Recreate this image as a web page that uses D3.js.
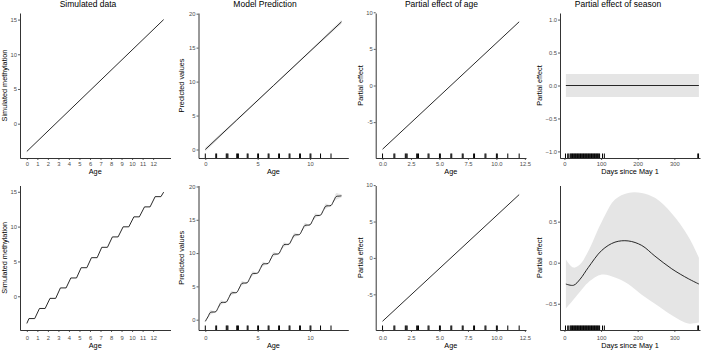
<!DOCTYPE html>
<html>
<head>
<meta charset="utf-8">
<script src="https://cdn.jsdelivr.net/npm/d3@7"></script>
<style>
  body { margin: 0; background: #fff; }
  text { font-family: "Liberation Sans", Arial, sans-serif; }
</style>
</head>
<body>
<div id="chart-area"></div>
<script>
// ---- data ----
var titles = ["Simulated data", "Model Prediction", "Partial effect of age", "Partial effect of season"];
var yTitles = ["Simulated methylation", "Predicted values", "Partial effect", "Partial effect"];
var xTitles = ["Age", "Age", "Age", "Days since May 1"];

// simulated data, no season effect
var simLineAge = [0, 13];
var simLineMeth = [-4, 15];

// simulated data, with season effect (corners of the staircase)
var simStepAge = [0, 0.2, 0.75, 1.2, 1.74, 2.2, 2.74, 3.19, 3.73, 4.18, 4.72, 5.16, 5.7, 6.14, 6.68,
  7.12, 7.66, 8.13, 8.67, 9.15, 9.69, 10.17, 10.69, 11.18, 11.71, 12.19, 12.74, 13.0];
var simStepMeth = [-3.9, -3.2, -3.2, -1.75, -1.75, -0.3, -0.3, 1.2, 1.2, 2.63, 2.63, 4.1, 4.1, 5.54, 5.54,
  7.03, 7.03, 8.52, 8.52, 9.97, 9.97, 11.4, 11.4, 12.83, 12.83, 14.3, 14.3, 14.95];

// model prediction, no season effect
var predLineAge = [0, 3, 6.5, 10, 13];
var predLineVal = [0, 4.34, 9.4, 14.46, 18.8];
var predLineSE = [0.3, 0.15, 0.1, 0.15, 0.3];

// model prediction, with season effect
var predWaveAge = [0, 0.25, 0.5, 0.75, 1, 1.25, 1.5, 1.75, 2, 2.25, 2.5, 2.75, 3, 3.25, 3.5, 3.75,
  4, 4.25, 4.5, 4.75, 5, 5.25, 5.5, 5.75, 6, 6.25, 6.5, 6.75, 7, 7.25, 7.5, 7.75,
  8, 8.25, 8.5, 8.75, 9, 9.25, 9.5, 9.75, 10, 10.25, 10.5, 10.75, 11, 11.25, 11.5, 11.75,
  12, 12.25, 12.5, 12.75, 13];
var predWaveVal = [-0.25, 0.42, 1.10, 1.15, 1.20, 1.87, 2.55, 2.60, 2.65, 3.32, 4.00, 4.05,
  4.10, 4.77, 5.45, 5.50, 5.55, 6.22, 6.90, 6.95, 7.00, 7.67, 8.35, 8.40,
  8.45, 9.12, 9.80, 9.85, 9.90, 10.57, 11.25, 11.30, 11.35, 12.02, 12.70, 12.75,
  12.80, 13.47, 14.15, 14.20, 14.25, 14.92, 15.60, 15.65, 15.70, 16.37, 17.05, 17.10,
  17.15, 17.82, 18.50, 18.55, 18.60];
var predWaveSE = [0.2, 0.08, 0.35, 0.18, 0.12, 0.08, 0.35, 0.18, 0.12, 0.08, 0.35, 0.18,
  0.12, 0.08, 0.35, 0.18, 0.12, 0.08, 0.35, 0.18, 0.12, 0.08, 0.35, 0.18,
  0.12, 0.08, 0.35, 0.18, 0.12, 0.08, 0.35, 0.18, 0.12, 0.08, 0.35, 0.18,
  0.12, 0.08, 0.35, 0.18, 0.12, 0.08, 0.38, 0.18, 0.12, 0.08, 0.4, 0.2,
  0.15, 0.1, 0.5, 0.35, 0.25];

// partial effect of age
var ageEffAge = [0, 12];
var ageEffVal = [-8.7, 8.7];

// partial effect of season, no season effect
var seasonFlatDay = [4, 367];
var seasonFlatVal = [0, 0];
var seasonFlatSE = [0.175, 0.175];

// partial effect of season, with season effect
var seasonDay = [4, 25, 43, 65, 102, 138, 174, 211, 247, 293, 338, 367];
var seasonVal = [-0.26, -0.275, -0.2, -0.06, 0.15, 0.25, 0.265, 0.21, 0.08, -0.075, -0.195, -0.26];
var seasonUpper = [0.04, -0.06, -0.02, 0.14, 0.5, 0.77, 0.85, 0.85, 0.79, 0.6, 0.32, 0.06];
var seasonLower = [-0.56, -0.45, -0.35, -0.24, -0.145, -0.18, -0.26, -0.39, -0.5, -0.64, -0.74, -0.73];

// rugs (observed ages and sampling days)
var rugAge = [0, 1, 1.08, 2, 2.08, 2.16, 3, 3.08, 3.16, 4, 4.08, 5, 5.08, 6, 6.08, 7, 7.08,
  8, 8.08, 9, 9.08, 10, 10.08, 11, 12];
var rugDay = [3, 9, 12, 16, 18, 20, 22, 24, 26, 28, 30, 32, 34, 36, 38, 40, 42, 44, 46, 48,
  50, 52, 54, 56, 58, 60, 62, 64, 66, 68, 70, 72, 74, 76, 78, 80, 82, 84, 86, 88, 90, 92, 94, 96,
  104, 109, 364, 366];

// tick labels
var ageTicks1 = [0, 1, 2, 3, 4, 5, 6, 7, 8, 9, 10, 11, 12];
var ageTicks2 = [0, 5, 10];
var ageTicks3 = [0, 2.5, 5, 7.5, 10, 12.5];
var dayTicks = [0, 100, 200, 300];

// ---- layout ----
var svg = d3.select("#chart-area")
  .append("svg")
  .attr("width", 706)
  .attr("height", 350);

var cols = [
  { x0: 20, x1: 170.5, cx: 88, lab: 4.3 },
  { x0: 198.5, x1: 348.3, cx: 265, lab: 181.7 },
  { x0: 375.7, x1: 526, cx: 441.5, lab: 360.5 },
  { x0: 560, x1: 700, cx: 618, lab: 539.5 }
];
var rows = [
  { y0: 13, y1: 158, pad: 2.2, title: 174.2 },
  { y0: 185.5, y1: 330, pad: 3.5, title: 347.6 }
];

function zip(a, b, c) {
  return a.map((d, i) => c ? [d, b[i], c[i]] : [d, b[i]]);
}

function panel(c, r, o) {
  var col = cols[c], row = rows[r];
  var x = d3.scaleLinear().domain(o.xDomain).range([col.x0, col.x1]);
  var y = d3.scaleLinear().domain(o.yDomain).range([row.y1, row.y0]);
  var g = svg.append("g");

  // confidence band
  if (o.band) {
    g.append("path")
      .datum(o.band)
      .attr("d", d3.area()
        .x(d => x(d[0]))
        .y0(d => y(d[1]))
        .y1(d => y(d[2]))
        .curve(o.curve || d3.curveLinear))
      .attr("fill", "#e5e5e5");
  }

  // line
  g.append("path")
    .datum(o.line)
    .attr("d", d3.line()
      .x(d => x(d[0]))
      .y(d => y(d[1]))
      .curve(o.curve || d3.curveLinear))
    .attr("fill", "none")
    .attr("stroke", "#111")
    .attr("stroke-width", 0.9);

  // rug
  if (o.rug) {
    g.selectAll(".rug")
      .data(o.rug)
      .enter()
      .append("line")
      .attr("x1", d => x(d))
      .attr("x2", d => x(d))
      .attr("y1", row.y1)
      .attr("y2", row.y1 - 4.5)
      .attr("stroke", "#000")
      .attr("stroke-width", 1);
  }

  // axes
  var xAxis = g.append("g")
    .attr("transform", "translate(0," + row.y1 + ")")
    .call(d3.axisBottom(x)
      .tickValues(o.xTicks)
      .tickFormat(o.xFmt || (d => d))
      .tickSize(2)
      .tickSizeOuter(0)
      .tickPadding(row.pad));
  var yAxis = g.append("g")
    .attr("transform", "translate(" + col.x0 + ",0)")
    .call(d3.axisLeft(y)
      .tickValues(o.yTicks)
      .tickFormat(o.yFmt || (d => d))
      .tickSize(2)
      .tickSizeOuter(0)
      .tickPadding(1));

  [xAxis, yAxis].forEach(a => {
    a.attr("font-family", null).attr("font-size", null);
    a.select(".domain").attr("stroke", "#000").attr("stroke-width", 0.8);
    a.selectAll(".tick line").attr("stroke", "#333").attr("stroke-width", 0.8);
    a.selectAll(".tick text").attr("fill", "#4d4d4d").attr("font-size", "5.8px");
  });

  // title
  if (r === 0) {
    svg.append("text")
      .attr("x", col.cx)
      .attr("y", 7.3)
      .attr("text-anchor", "middle")
      .attr("font-size", "8.5px")
      .text(titles[c]);
  }

  // x label
  svg.append("text")
    .attr("x", (col.x0 + col.x1) / 2)
    .attr("y", row.title)
    .attr("text-anchor", "middle")
    .attr("font-size", "7.3px")
    .text(xTitles[c]);

  // y label
  svg.append("text")
    .attr("transform", "translate(" + col.lab + "," + (row.y0 + row.y1) / 2 + ") rotate(-90)")
    .attr("dy", "0.35em")
    .attr("text-anchor", "middle")
    .attr("font-size", "7.3px")
    .text(yTitles[c]);
}

var fmt1 = d3.format(".1f");

// ---- top row: no season effect ----
panel(0, 0, {
  xDomain: [-0.65, 13.65], yDomain: [-4.95, 15.95],
  xTicks: ageTicks1, yTicks: [0, 5, 10, 15],
  line: zip(simLineAge, simLineMeth)
});
panel(1, 0, {
  xDomain: [-0.65, 13.65], yDomain: [-1.25, 20.1],
  xTicks: ageTicks2, yTicks: [0, 5, 10, 15, 20],
  line: zip(predLineAge, predLineVal),
  band: predLineAge.map((a, i) => [a, predLineVal[i] - predLineSE[i], predLineVal[i] + predLineSE[i]]),
  rug: rugAge
});
panel(2, 0, {
  xDomain: [-0.6, 12.6], yDomain: [-9.9, 9.9],
  xTicks: ageTicks3, xFmt: fmt1, yTicks: [-5, 0, 5, 10],
  line: zip(ageEffAge, ageEffVal),
  rug: rugAge
});
panel(3, 0, {
  xDomain: [-12, 370], yDomain: [-1.1, 1.1],
  xTicks: dayTicks, yTicks: [-1, -0.5, 0, 0.5, 1], yFmt: fmt1,
  line: zip(seasonFlatDay, seasonFlatVal),
  band: seasonFlatDay.map((d, i) => [d, seasonFlatVal[i] - seasonFlatSE[i], seasonFlatVal[i] + seasonFlatSE[i]]),
  rug: rugDay
});

// ---- bottom row: with season effect ----
panel(0, 1, {
  xDomain: [-0.65, 13.65], yDomain: [-4.84, 15.9],
  xTicks: ageTicks1, yTicks: [0, 5, 10, 15],
  line: zip(simStepAge, simStepMeth)
});
panel(1, 1, {
  xDomain: [-0.65, 13.65], yDomain: [-1.55, 20.15],
  xTicks: ageTicks2, yTicks: [0, 5, 10, 15, 20],
  line: zip(predWaveAge, predWaveVal),
  band: predWaveAge.map((a, i) => [a, predWaveVal[i] - predWaveSE[i], predWaveVal[i] + predWaveSE[i]]),
  curve: d3.curveCatmullRom,
  rug: rugAge
});
panel(2, 1, {
  xDomain: [-0.6, 12.6], yDomain: [-9.9, 9.95],
  xTicks: ageTicks3, xFmt: fmt1, yTicks: [-5, 0, 5, 10],
  line: zip(ageEffAge, ageEffVal),
  rug: rugAge
});
panel(3, 1, {
  xDomain: [-12, 370], yDomain: [-0.82, 0.94],
  xTicks: dayTicks, yTicks: [-0.5, 0, 0.5], yFmt: fmt1,
  line: zip(seasonDay, seasonVal),
  band: zip(seasonDay, seasonLower, seasonUpper),
  curve: d3.curveCatmullRom,
  rug: rugDay
});
</script>
</body>
</html>
